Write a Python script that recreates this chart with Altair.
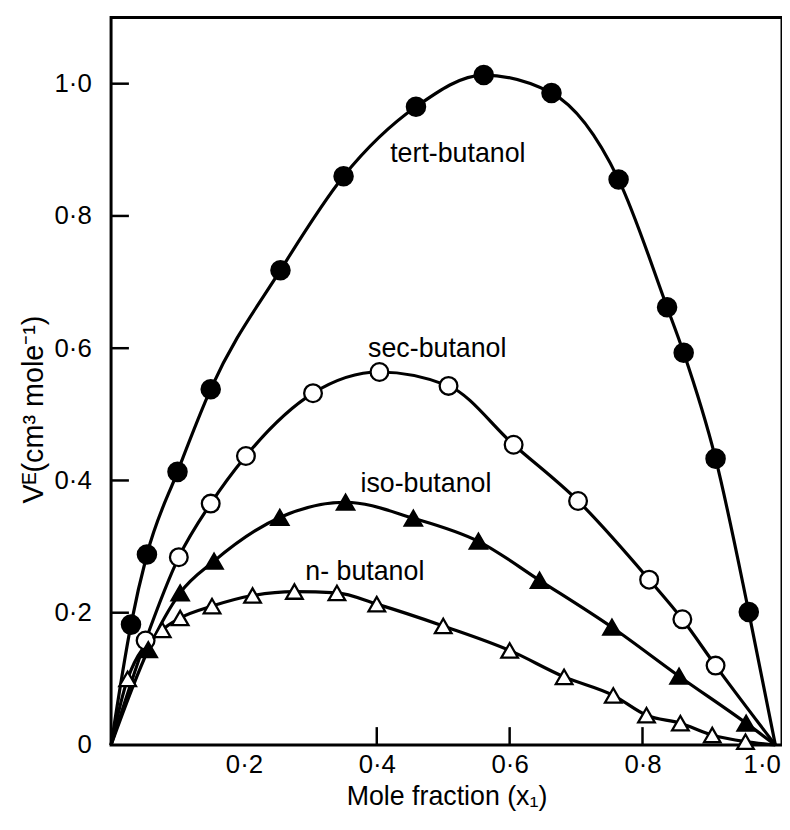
import altair as alt
import pandas as pd

# ---- data ----
tert_x = [0.03, 0.054, 0.10, 0.15, 0.255, 0.35, 0.459, 0.561, 0.663, 0.764, 0.837, 0.862, 0.91, 0.96]
tert_y = [0.182, 0.288, 0.413, 0.538, 0.718, 0.86, 0.965, 1.013, 0.986, 0.855, 0.662, 0.593, 0.433, 0.201]

sec_x = [0.052, 0.102, 0.15, 0.203, 0.304, 0.404, 0.508, 0.606, 0.703, 0.81, 0.86, 0.91]
sec_y = [0.158, 0.284, 0.365, 0.437, 0.532, 0.564, 0.543, 0.454, 0.369, 0.25, 0.19, 0.12]

iso_x = [0.056, 0.104, 0.155, 0.254, 0.353, 0.455, 0.553, 0.645, 0.754, 0.855, 0.956]
iso_y = [0.144, 0.23, 0.278, 0.344, 0.367, 0.343, 0.308, 0.249, 0.178, 0.104, 0.033]

n_x = [0.025, 0.077, 0.104, 0.152, 0.213, 0.276, 0.34, 0.40, 0.50, 0.60, 0.682, 0.756, 0.806, 0.857, 0.905, 0.955]
n_y = [0.1, 0.174, 0.192, 0.21, 0.226, 0.232, 0.23, 0.213, 0.18, 0.143, 0.103, 0.075, 0.045, 0.033, 0.015, 0.005]

series_names = ["tert", "sec", "iso", "n"]
curve_start = [0.0, 0.0]   # every curve starts at (0, 0)
curve_end = [1.0, 0.0]     # and ends at (1, 0)

label_text = ["tert-butanol", "sec-butanol", "iso-butanol", "n- butanol"]
label_x = [0.522, 0.491, 0.474, 0.382]
label_y = [0.893, 0.598, 0.395, 0.261]

y_tick_values = [0.0, 0.2, 0.4, 0.6, 0.8, 1.0]
x_tick_values = [0.2, 0.4, 0.6, 0.8, 1.0]
x_inner_ticks = [0.4, 0.6, 0.8]
y_inner_ticks = [0.2, 0.4, 0.6, 0.8, 1.0]

# ---- tables ----
series_xy = {"tert": (tert_x, tert_y), "sec": (sec_x, sec_y),
             "iso": (iso_x, iso_y), "n": (n_x, n_y)}

pts_rows, line_rows = [], []
for s in series_names:
    xs, ys = series_xy[s]
    line_rows.append({"x": curve_start[0], "y": curve_start[1], "series": s})
    for xv, yv in zip(xs, ys):
        pts_rows.append({"x": xv, "y": yv, "series": s})
        line_rows.append({"x": xv, "y": yv, "series": s})
    line_rows.append({"x": curve_end[0], "y": curve_end[1], "series": s})

pts = pd.DataFrame(pts_rows)
lines = pd.DataFrame(line_rows)
labels = pd.DataFrame({"x": label_x, "y": label_y, "t": label_text})
xt = pd.DataFrame({"v": x_inner_ticks})
yt = pd.DataFrame({"v": y_inner_ticks})

W, H = 677, 734
FONT = "Liberation Sans"

xscale = alt.Scale(domain=[0, 1.01], nice=False, zero=False)
yscale = alt.Scale(domain=[0, 1.1], nice=False)

xaxis = alt.Axis(
    values=x_tick_values, title="Mole fraction (x\u2081)",
    labelExpr="replace(format(datum.value, '.1f'), '.', '\u00b7')",
    domain=False, ticks=False, grid=False,
    labelAlign=alt.condition("datum.value >= 0.99", alt.value("right"), alt.value("center")),
    labelOffset=alt.condition("datum.value >= 0.99", alt.value(5), alt.value(0)),
    labelPadding=7, titlePadding=6,
    labelFont=FONT, titleFont=FONT, labelFontSize=26, titleFontSize=27,
    labelColor="black", titleColor="black", titleFontWeight="normal",
)
yaxis = alt.Axis(
    values=y_tick_values, title="V\u1d31(cm\u00b3 mole\u207b\u00b9)",
    labelExpr="datum.value == 0 ? '0' : replace(format(datum.value, '.1f'), '.', '\u00b7')",
    domain=False, ticks=False, grid=False, labelPadding=20, titlePadding=8,
    labelFont=FONT, titleFont=FONT, labelFontSize=26, titleFontSize=29,
    labelColor="black", titleColor="black", titleFontWeight="normal",
    titleY=395, titleX=-78, titleAlign="center", titleBaseline="middle",
)

base_x = alt.X("x:Q", scale=xscale, axis=xaxis)
base_y = alt.Y("y:Q", scale=yscale, axis=yaxis)

curve = alt.Chart(lines).mark_line(
    interpolate="monotone", color="black", strokeWidth=3.2
).encode(x=base_x, y=base_y, detail="series:N", order=alt.Order("x:Q"))

markers = alt.Chart(pts).mark_point(
    filled=True, stroke="black", strokeWidth=2.3, opacity=1
).encode(
    x=alt.X("x:Q", scale=xscale),
    y=alt.Y("y:Q", scale=yscale),
    shape=alt.Shape("series:N", scale=alt.Scale(
        domain=series_names, range=["circle", "circle", "triangle-up", "triangle-up"]), legend=None),
    fill=alt.Fill("series:N", scale=alt.Scale(
        domain=series_names, range=["black", "white", "black", "white"]), legend=None),
    size=alt.Size("series:N", scale=alt.Scale(
        domain=series_names, range=[340, 280, 440, 400]), legend=None),
)

texts = alt.Chart(labels).mark_text(
    font=FONT, fontSize=27, color="black", align="center", baseline="middle"
).encode(x=alt.X("x:Q", scale=xscale), y=alt.Y("y:Q", scale=yscale), text="t:N")

xticks = alt.Chart(xt).mark_rule(color="black", strokeWidth=2.5).encode(
    x=alt.X("v:Q", scale=xscale), y=alt.value(H), y2=alt.value(H - 18))
yticks = alt.Chart(yt).mark_rule(color="black", strokeWidth=2.5).encode(
    y=alt.Y("v:Q", scale=yscale), x=alt.value(0), x2=alt.value(18))

chart = alt.layer(curve, markers, texts, xticks, yticks).properties(
    width=W, height=H,
    padding={"left": 12, "top": 6, "right": 0, "bottom": 0},
    background="white",
).configure_view(
    stroke="black", strokeWidth=3
)

chart.save("out.html", embed_options={"renderer": "svg", "actions": False})
